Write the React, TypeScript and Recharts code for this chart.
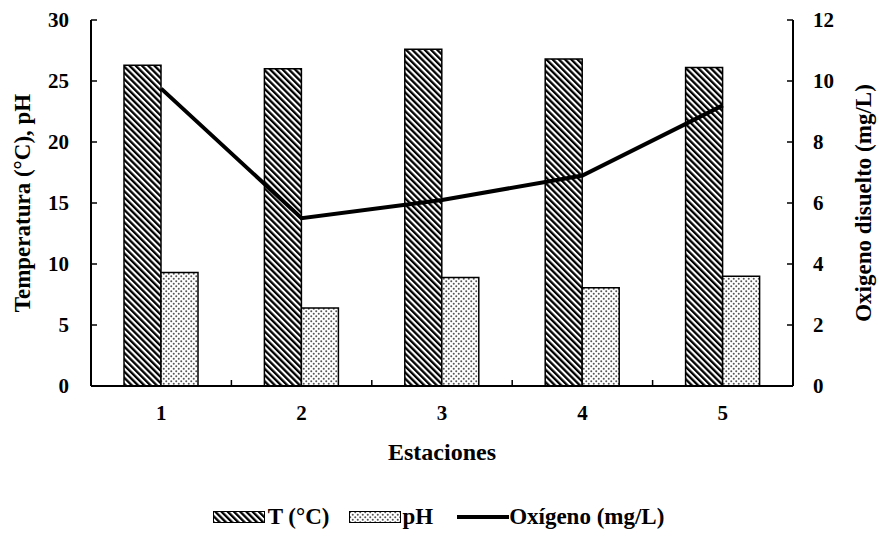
import { ComposedChart, Bar, Line, XAxis, YAxis, Legend } from 'recharts';

const estaciones = ['1', '2', '3', '4', '5'];
const temperatura = [26.3, 26.0, 27.6, 26.8, 26.1];
const ph = [9.3, 6.4, 8.9, 8.05, 9.0];
const oxigeno = [9.75, 5.5, 6.1, 6.9, 9.2];
const ticksIzq = [0, 5, 10, 15, 20, 25, 30];
const ticksDer = [0, 2, 4, 6, 8, 10, 12];

const data = estaciones.map((e, i) => ({
  estacion: e,
  t: temperatura[i],
  ph: ph[i],
  ox: oxigeno[i],
}));

const font = 'Liberation Serif, DejaVu Serif, serif';
const ANCHO = 877;
const ALTO = 534;
const EJE_IZQ = 91;
const EJE_DER = 84;
const margenTick = 19;
const mitadBanda = (ANCHO - EJE_IZQ - EJE_DER) / estaciones.length / 2;

// label at the category centre, small inward tick at the start of the band
function TickEstacion(props: any) {
  const { x, y, payload } = props;
  const ejeY = y - margenTick;
  const borde = x - mitadBanda;
  const primero = String(payload.value) === estaciones[0];
  return (
    <g>
      {!primero && (
        <line x1={borde} x2={borde} y1={ejeY} y2={ejeY - 6} stroke="#000" strokeWidth={1.5} />
      )}
      <text x={x} y={y} dy="0.71em" textAnchor="middle" fontFamily={font} fontWeight={700} fontSize={21} fill="#000">
        {payload.value}
      </text>
    </g>
  );
}

function Leyenda() {
  const txt = { fontFamily: font, fontWeight: 700, fontSize: 23, color: '#000' };
  return (
    <div style={{ height: 68, display: 'flex', alignItems: 'flex-end', justifyContent: 'center' }}>
      <div style={{ display: 'flex', alignItems: 'center', marginBottom: 4 }}>
        <svg width={52} height={12} style={{ marginRight: 3 }}>
          <rect x={0.5} y={0.5} width={51} height={11} fill="url(#rayas)" stroke="#000" />
        </svg>
        <span style={{ ...txt, marginRight: 20 }}>T (°C)</span>
        <svg width={52} height={12} style={{ marginRight: 1 }}>
          <rect x={0.5} y={0.5} width={51} height={11} fill="url(#puntos)" stroke="#000" />
        </svg>
        <span style={{ ...txt, marginRight: 24 }}>pH</span>
        <svg width={52} height={12}>
          <line x1={0} y1={6} x2={52} y2={6} stroke="#000" strokeWidth={4} />
        </svg>
        <span style={txt}>Oxígeno (mg/L)</span>
      </div>
    </div>
  );
}

export default function App() {
  const tickStyle = { fontFamily: font, fontWeight: 700, fontSize: 21, fill: '#000' };
  const labelStyle = { fontFamily: font, fontWeight: 700, fontSize: 23, fill: '#000', textAnchor: 'middle' as const };
  return (
    <div style={{ position: 'absolute', left: 0, top: 0, background: '#fff' }}>
      <ComposedChart
        width={ANCHO}
        height={ALTO}
        data={data}
        margin={{ top: 20, right: 0, left: 0, bottom: 0 }}
        barGap={0}
        barSize={37}
      >
        <defs>
          <pattern id="rayas" patternUnits="userSpaceOnUse" width={4.4} height={4.4} patternTransform="rotate(-45)">
            <rect x={0} y={0} width={4.4} height={4.4} fill="#fff" />
            <rect x={0} y={0} width={2.3} height={4.4} fill="#000" />
          </pattern>
          <pattern id="puntos" patternUnits="userSpaceOnUse" width={5} height={5}>
            <rect x={0} y={0} width={5} height={5} fill="#fff" />
            <circle cx={1.25} cy={1.25} r={1} fill="#555" />
            <circle cx={3.75} cy={3.75} r={1} fill="#555" />
          </pattern>
        </defs>
        <XAxis
          dataKey="estacion"
          height={80}
          tickLine={false}
          tickSize={0}
          tickMargin={margenTick}
          tick={<TickEstacion />}
          axisLine={{ stroke: '#000', strokeWidth: 2 }}
          label={{ value: 'Estaciones', position: 'insideBottom', offset: 6, style: { ...labelStyle, fontSize: 24 } }}
        />
        <YAxis
          yAxisId="izq"
          domain={[0, 30]}
          ticks={ticksIzq}
          width={EJE_IZQ}
          tickSize={-6}
          tickMargin={28}
          tick={tickStyle}
          axisLine={{ stroke: '#000', strokeWidth: 2 }}
          tickLine={{ stroke: '#000', strokeWidth: 1.5 }}
          label={{ value: 'Temperatura  (°C), pH', angle: -90, position: 'insideLeft', offset: 22, style: labelStyle }}
        />
        <YAxis
          yAxisId="der"
          orientation="right"
          domain={[0, 12]}
          ticks={ticksDer}
          width={EJE_DER}
          tickSize={-6}
          tickMargin={26}
          tick={{ ...tickStyle, textAnchor: 'start' }}
          axisLine={{ stroke: '#000', strokeWidth: 2 }}
          tickLine={{ stroke: '#000', strokeWidth: 1.5 }}
          label={{ value: 'Oxigeno disuelto (mg/L)', angle: -90, position: 'insideRight', offset: 14, style: labelStyle }}
        />
        <Bar yAxisId="izq" dataKey="t" name="T (°C)" fill="url(#rayas)" stroke="#000" strokeWidth={1.5} isAnimationActive={false} />
        <Bar yAxisId="izq" dataKey="ph" name="pH" fill="url(#puntos)" stroke="#000" strokeWidth={1.5} isAnimationActive={false} />
        <Line yAxisId="der" dataKey="ox" name="Oxígeno (mg/L)" stroke="#000" strokeWidth={4} dot={false} type="linear" isAnimationActive={false} />
        <Legend verticalAlign="bottom" content={() => <Leyenda />} />
      </ComposedChart>
    </div>
  );
}
